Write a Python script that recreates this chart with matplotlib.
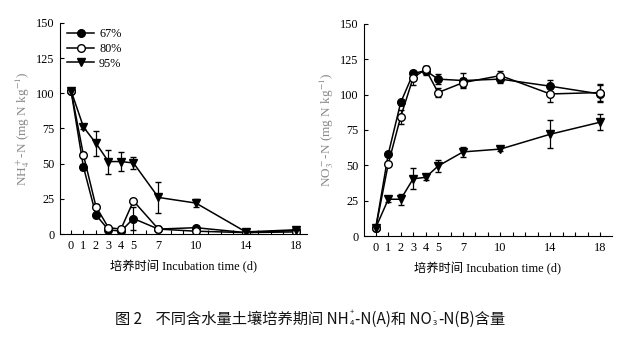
import numpy as np
import matplotlib
matplotlib.use("Agg")
import matplotlib.pyplot as plt
from matplotlib.ticker import MultipleLocator
from matplotlib.lines import Line2D

days = [0, 1, 2, 3, 4, 5, 7, 10, 14, 18]
labels = ["67%", "80%", "95%"]

# NH4+-N (A)
nh4_67 = [102, 47.5, 13.5, 3, 2, 11, 3.5, 4.5, 1, 2.5]
nh4_80 = [102, 56, 19.5, 4.5, 3.5, 23.5, 3.5, 2, 1, 1.5]
nh4_95 = [102, 76, 64.5, 51.5, 51.5, 50.5, 26, 22, 1.5, 3]
nh4_67_err = [1, 2, 1.5, 0.5, 0.5, 8, 0.5, 1, 0.3, 0.5]
nh4_80_err = [1, 2, 1.5, 0.5, 0.5, 1.5, 0.5, 0.5, 0.3, 0.3]
nh4_95_err = [1, 1.5, 9, 8.5, 7, 4, 11, 3, 0.5, 0.5]

# NO3--N (B)
no3_67 = [6, 58, 94.5, 115, 117, 111, 110, 111, 106, 100.5]
no3_80 = [6, 51, 84.5, 112, 118, 101.5, 108.5, 113.5, 100.5, 101.5]
no3_95 = [6, 26, 26, 40.5, 41.5, 49.5, 59.5, 61.5, 72, 80.5]
no3_67_err = [0.5, 1.5, 1.5, 1.5, 3, 3.5, 5, 3, 4.5, 6]
no3_80_err = [0.5, 1.5, 5, 5, 2, 3.5, 3, 3.5, 5.5, 6]
no3_95_err = [0.5, 2, 4, 7.5, 2, 4, 3.5, 1.5, 10, 5.5]

styles = [dict(marker="o", mfc="black"),
          dict(marker="o", mfc="white"),
          dict(marker="v", mfc="black")]

serif = ["Liberation Serif", "Noto Sans CJK SC"]
plt.rcParams["font.family"] = serif
plt.rcParams["mathtext.fontset"] = "stix"

fig = plt.figure(figsize=(6.35, 3.37), dpi=100)
axA = fig.add_axes([0.0945, 0.3056, 0.389, 0.6262])
axB = fig.add_axes([0.573, 0.2997, 0.391, 0.6291])

panels = [
    (axA, [nh4_67, nh4_80, nh4_95], [nh4_67_err, nh4_80_err, nh4_95_err],
     r"NH$_4^+$-N (mg N kg$^{-1}$)", (-0.88, 18.9)),
    (axB, [no3_67, no3_80, no3_95], [no3_67_err, no3_80_err, no3_95_err],
     r"NO$_3^-$-N (mg N kg$^{-1}$)", (-0.96, 18.97)),
]

for ax, series, errs, ylab, xl in panels:
    for y, e, st in zip(series, errs, styles):
        ax.errorbar(days, y, yerr=e, color="black", lw=1.1, ms=5.5,
                    marker=st["marker"], mfc=st["mfc"], mec="black", mew=1,
                    capsize=2.5, elinewidth=0.9, capthick=0.9)
    ax.set_xlim(*xl)
    ax.set_ylim(0, 150)
    ax.set_xticks(days)
    ax.xaxis.set_minor_locator(MultipleLocator(1))
    ax.yaxis.set_major_locator(MultipleLocator(25))
    ax.spines["top"].set_visible(False)
    ax.spines["right"].set_visible(False)
    ax.spines["left"].set_bounds(0, 150)
    ax.tick_params(direction="in", labelsize=8.8, length=3, width=0.8, pad=4)
    ax.tick_params(axis="x", which="minor", direction="in", length=3, width=0.8)
    ax.set_xlabel("培养时间 Incubation time (d)", fontsize=8.8, family=serif,
                  labelpad=6)
    ax.set_ylabel(ylab, fontsize=9.5, color="#8a8a8a", labelpad=3)

handles = [Line2D([], [], color="black", lw=1.1, marker=st["marker"],
                  mfc=st["mfc"], mec="black", ms=5.5) for st in styles]
axA.legend(handles, labels, loc="upper left", frameon=False, fontsize=8.8,
           handlelength=2.2, handletextpad=0.4, labelspacing=0.22,
           borderaxespad=0.2, bbox_to_anchor=(0.0, 1.01))

# caption built from pieces so sub/superscripts sit next to CJK text
cjk = ["Noto Sans CJK SC", "DejaVu Sans"]
cap = dict(fontsize=11, family=cjk, color="#111111")
small = dict(fontsize=5.5, family=cjk, color="#111111")
t = fig.text(0.181, 0.028, "图 2    不同含水量土壤培养期间 NH", va="bottom", **cap)
plt.annotate("+", xy=(1, 0), xycoords=t, xytext=(0.5, 8.5),
             textcoords="offset points", va="bottom", **small)
plt.annotate("4", xy=(1, 0), xycoords=t, xytext=(0.5, 0.5),
             textcoords="offset points", va="bottom", **small)
t2 = plt.annotate("-N(A)和 NO", xy=(1, 0), xycoords=t, xytext=(4.5, 0),
                  textcoords="offset points", va="bottom", **cap)
plt.annotate("-", xy=(1, 0), xycoords=t2, xytext=(0.5, 8.5),
             textcoords="offset points", va="bottom", **small)
plt.annotate("3", xy=(1, 0), xycoords=t2, xytext=(0.5, 0.5),
             textcoords="offset points", va="bottom", **small)
plt.annotate("-N(B)含量", xy=(1, 0), xycoords=t2, xytext=(4.5, 0),
             textcoords="offset points", va="bottom", **cap)

fig.savefig("out.png", dpi=100, facecolor="white")
